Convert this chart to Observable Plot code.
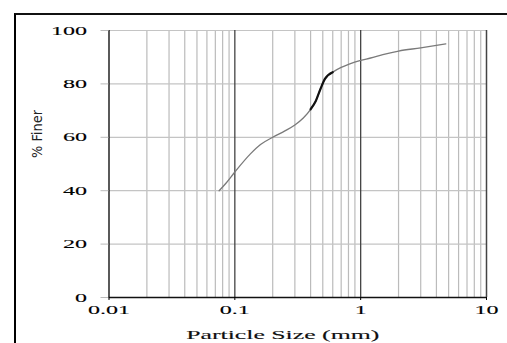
<!DOCTYPE html>
<html>
<head>
<meta charset="utf-8">
<script src="https://cdn.jsdelivr.net/npm/d3@7"></script>
<script src="https://cdn.jsdelivr.net/npm/@observablehq/plot@0.6"></script>
<style>
  html, body { margin: 0; padding: 0; background: #fff; }
  #wrap { position: relative; width: 507px; height: 343px; overflow: hidden; }
  #frame { position: absolute; left: 14px; top: 13px; width: 520px; height: 360px;
           border-left: 2.5px solid #000; border-top: 2px solid #111; box-sizing: border-box; }
  #wrap svg { position: absolute; left: 0; top: 0; }
</style>
</head>
<body>
<div id="wrap"><div id="frame"></div></div>
<script>
// Particle size (mm) and percent finer
const size  = [0.075, 0.085, 0.1, 0.133, 0.16, 0.2, 0.25, 0.3, 0.35, 0.4, 0.44, 0.48, 0.52, 0.6, 0.7, 0.8, 1.0, 1.2, 1.5, 2.0, 3.0, 4.75];
const finer = [40, 42.8, 47, 53.8, 57.3, 60, 62.4, 64.6, 67.2, 70.5, 73.6, 78.2, 81.9, 84.4, 86.2, 87.3, 88.8, 89.7, 91, 92.3, 93.5, 95];
// portion drawn heavier
const boldFrom = 0.4, boldTo = 0.6;

const xTicks = [0.01, 0.1, 1, 10];
const xMajor = [0.1, 1];
const xMinor = [0.02,0.03,0.04,0.05,0.06,0.07,0.08,0.09, 0.2,0.3,0.4,0.5,0.6,0.7,0.8,0.9, 2,3,4,5,6,7,8,9];
const yTicks = [0, 20, 40, 60, 80, 100];
const xLabel = "Particle Size (mm)";
const yLabel = "% Finer";

const data = size.map((s, i) => ({size: s, finer: finer[i]}));
const bold = data.filter(d => d.size >= boldFrom && d.size <= boldTo);

const serif = "'Liberation Serif', 'Times New Roman', serif";

const chart = Plot.plot({
  width: 507,
  height: 343,
  marginLeft: 108.5,
  marginRight: 21,
  marginTop: 30,
  marginBottom: 46,
  style: {fontSize: "13px", color: "#000", background: "transparent"},
  x: {type: "log", domain: [0.01, 10]},
  y: {domain: [0, 100]},
  marks: [
    Plot.ruleX(xMinor, {stroke: "#bbb", strokeWidth: 1.2}),
    Plot.ruleY(yTicks.filter(d => d > 0), {stroke: "#c4c4c4", strokeWidth: 1.2}),
    Plot.ruleX(xMajor, {stroke: "#444", strokeWidth: 1.3}),
    Plot.ruleX([10], {stroke: "#444", strokeWidth: 1.5}),
    Plot.ruleX([0.01], {stroke: "#000", strokeWidth: 1.3}),
    Plot.ruleY([0], {stroke: "#111", strokeWidth: 1.3}),
    Plot.axisY({ticks: yTicks, tickSize: 8, tickPadding: 14, stroke: "#bbb", label: null, fontSize: 13, fontFamily: serif}),
    Plot.axisX({ticks: xTicks, tickSize: 3, tickPadding: 4, tickFormat: d => String(d), label: null, fontSize: 13, fontFamily: serif}),
    Plot.line(data, {x: "size", y: "finer", curve: "monotone-x", stroke: "#7a7a7a", strokeWidth: 1.3}),
    Plot.line(bold, {x: "size", y: "finer", curve: "monotone-x", stroke: "#111", strokeWidth: 2.2}),
    Plot.text([xLabel], {text: d => d, frameAnchor: "bottom", dx: -15, dy: 41, fontSize: 13, fontFamily: serif, fill: "#111"}),
    Plot.text([yLabel], {text: d => d, frameAnchor: "left", dx: -71, dy: -6, rotate: -90, fontSize: 14,
                         fontFamily: "'DejaVu Sans Condensed', 'Liberation Sans', sans-serif", fill: "#222"})
  ]
});

document.getElementById("wrap").appendChild(chart);

// stretch the serif texts horizontally like the reference, compress the y label
chart.querySelectorAll("text").forEach(t => {
  const s = t.textContent;
  const len = t.getComputedTextLength();
  if (s === yLabel) {
    t.setAttribute("textLength", 48);
    t.setAttribute("lengthAdjust", "spacingAndGlyphs");
    return;
  }
  t.style.fontFamily = serif;
  t.style.stroke = "#000";
  t.style.strokeWidth = "0.12px";
  if (s === xLabel) {
    t.setAttribute("textLength", 193);
    t.setAttribute("lengthAdjust", "spacingAndGlyphs");
  } else if (len > 0) {
    t.setAttribute("textLength", (len * 1.85).toFixed(1));
    t.setAttribute("lengthAdjust", "spacingAndGlyphs");
  }
});
</script>
</body>
</html>
